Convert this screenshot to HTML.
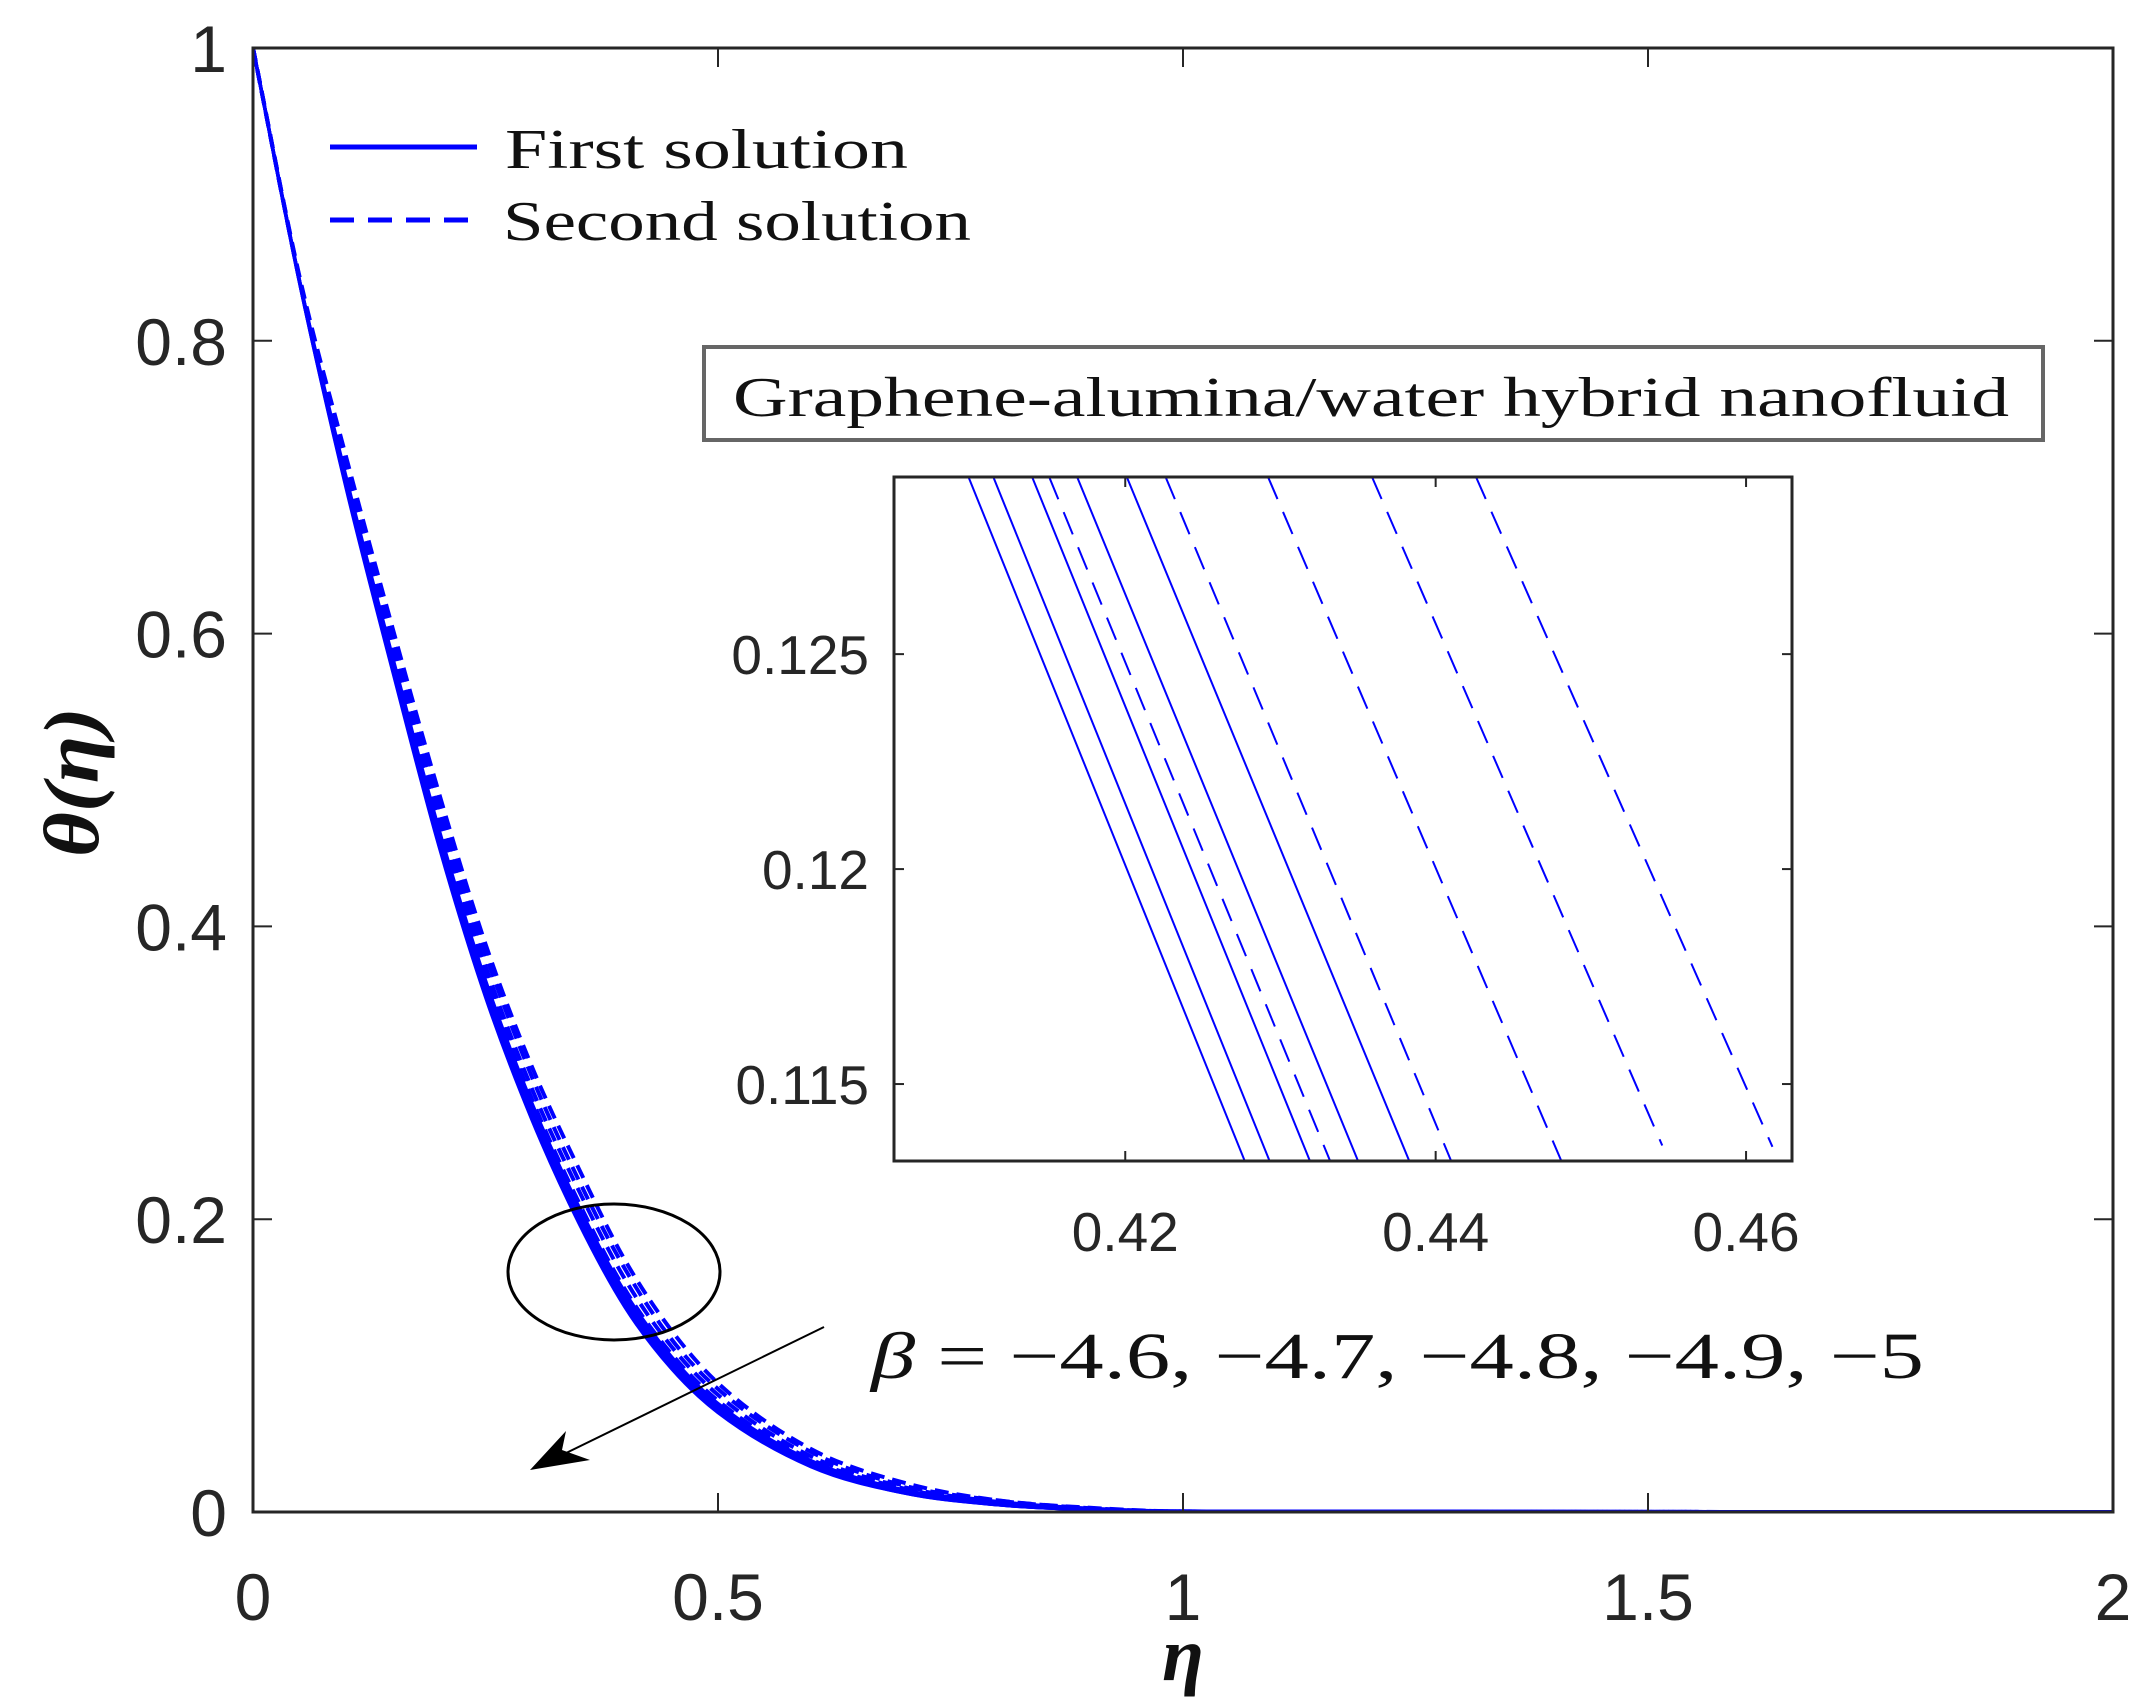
<!DOCTYPE html>
<html><head><meta charset="utf-8"><style>
html,body{margin:0;padding:0;background:#fff;}
svg{display:block;}
</style></head><body>
<svg id="chart" width="2146" height="1702" viewBox="0 0 2146 1702" xmlns="http://www.w3.org/2000/svg">
<defs>
<clipPath id="mainClip"><rect x="253" y="48" width="1860" height="1464"/></clipPath>
<clipPath id="insetClip"><rect x="894" y="477" width="898" height="684"/></clipPath>
</defs>
<rect x="0" y="0" width="2146" height="1702" fill="#fff"/>
<g id="mainCurves" clip-path="url(#mainClip)"></g>
<g id="mainAxes"></g>
<g>
<line x1="330" y1="147" x2="477" y2="147" stroke="#0000ff" stroke-width="5"/>
<text x="505" y="168" font-family="'Liberation Serif',serif" font-size="56" fill="#111" textLength="403" lengthAdjust="spacingAndGlyphs">First solution</text>
<line x1="330" y1="220" x2="477" y2="220" stroke="#0000ff" stroke-width="5" stroke-dasharray="24 14"/>
<text x="503" y="240" font-family="'Liberation Serif',serif" font-size="56" fill="#111" textLength="468" lengthAdjust="spacingAndGlyphs">Second solution</text>
</g>
<g>
<rect x="704" y="347" width="1339" height="93" fill="#fff" stroke="#666" stroke-width="4"/>
<text x="733" y="416" font-family="'Liberation Serif',serif" font-size="56" fill="#111" textLength="1276" lengthAdjust="spacingAndGlyphs">Graphene-alumina/water hybrid nanofluid</text>
</g>
<rect x="894" y="477" width="898" height="684" fill="#fff"/>
<g id="insetCurves" clip-path="url(#insetClip)"></g>
<g id="insetAxes"></g>
<ellipse cx="614" cy="1272" rx="106" ry="68" fill="none" stroke="#000" stroke-width="3"/>
<g>
<line x1="824" y1="1327" x2="560" y2="1456" stroke="#000" stroke-width="2"/>
<polygon points="530,1470 566,1431 562,1450 590,1460" fill="#000"/>
</g>
<text x="871" y="1378" font-family="'Liberation Serif',serif" font-size="66" fill="#111" textLength="1053" lengthAdjust="spacingAndGlyphs"><tspan font-style="italic">β</tspan> = −4.6, −4.7, −4.8, −4.9, −5</text>
<text x="1183" y="1680" text-anchor="middle" font-family="'Liberation Serif',serif" font-style="italic" font-weight="bold" font-size="76" fill="#111">η</text>
<text transform="translate(98,782) rotate(-90)" text-anchor="middle" font-family="'Liberation Serif',serif" font-style="italic" font-weight="bold" font-size="78" fill="#111" textLength="150" lengthAdjust="spacingAndGlyphs">θ(η)</text>
</svg>
<script>
// ---- main chart data ----
const etaGrid = [0,0.05,0.1,0.15,0.2,0.25,0.3,0.35,0.4,0.45,0.5,0.6,0.7,0.8,0.9,1.0,2.0];
const firstB46 = [1,0.840,0.700,0.575,0.455,0.352,0.268,0.198,0.140,0.098,0.068,0.031,0.013,0.005,0.0015,0.0004,0];
const firstB47 = [1,0.840,0.701,0.576,0.457,0.354,0.270,0.200,0.142,0.099,0.069,0.032,0.013,0.005,0.0015,0.0004,0];
const firstB48 = [1,0.841,0.703,0.579,0.459,0.357,0.272,0.203,0.144,0.101,0.071,0.033,0.014,0.005,0.0017,0.0004,0];
const firstB49 = [1,0.841,0.705,0.581,0.463,0.360,0.276,0.206,0.147,0.104,0.072,0.034,0.015,0.006,0.0018,0.0004,0];
const firstB50 = [1,0.841,0.707,0.584,0.466,0.363,0.279,0.209,0.150,0.106,0.074,0.035,0.015,0.006,0.0019,0.0004,0];
const secondB46 = [1,0.841,0.703,0.580,0.461,0.358,0.274,0.204,0.145,0.102,0.071,0.033,0.014,0.006,0.0017,0.0004,0];
const secondB47 = [1,0.842,0.708,0.586,0.469,0.366,0.282,0.212,0.152,0.108,0.076,0.036,0.016,0.006,0.0020,0.0004,0];
const secondB48 = [1,0.842,0.712,0.592,0.476,0.373,0.289,0.220,0.159,0.113,0.080,0.038,0.017,0.007,0.0023,0.0004,0];
const secondB49 = [1,0.843,0.717,0.598,0.483,0.381,0.297,0.227,0.166,0.118,0.084,0.041,0.018,0.008,0.0026,0.0004,0];
const secondB50 = [1,0.844,0.721,0.604,0.491,0.388,0.304,0.235,0.172,0.124,0.088,0.043,0.020,0.008,0.0029,0.0004,0];
const xTicks = [0,0.5,1,1.5,2];
const xTickLabels = ["0","0.5","1","1.5","2"];
const yTicks = [0,0.2,0.4,0.6,0.8,1];
const yTickLabels = ["0","0.2","0.4","0.6","0.8","1"];
// ---- inset data (line segments between top and bottom theta) ----
const insetThetaTop = 0.12912;
const insetSolidTopX = [0.4099,0.4115,0.4140,0.4169,0.4201];
const insetSolidBottomX = [0.4277,0.4293,0.4319,0.4350,0.4383];
const insetSolidBottomTheta = [0.11321,0.11321,0.11321,0.11321,0.11321];
const insetDashTopX = [0.4151,0.4226,0.4292,0.4359,0.4426];
const insetDashBottomX = [0.4332,0.4410,0.4481,0.4546,0.4617];
const insetDashBottomTheta = [0.11321,0.11321,0.11321,0.11357,0.11354];
const insetXTicks = [0.42,0.44,0.46];
const insetXTickLabels = ["0.42","0.44","0.46"];
const insetYTicks = [0.115,0.12,0.125];
const insetYTickLabels = ["0.115","0.12","0.125"];

const NS = "http://www.w3.org/2000/svg";
function mk(tag, attrs, parent){const e=document.createElementNS(NS,tag);for(const k in attrs)e.setAttribute(k,attrs[k]);parent.appendChild(e);return e;}

// main axes functions
const M = {l:253,r:2113,t:48,b:1512,x0:0,x1:2,y0:0,y1:1};
const mx = v => M.l + (v-M.x0)/(M.x1-M.x0)*(M.r-M.l);
const my = v => M.b - (v-M.y0)/(M.y1-M.y0)*(M.b-M.t);
// inset axes
const I = {l:894,r:1792,t:477,b:1161,x0:0.4051,x1:0.46296,y0:0.11321,y1:0.12912};
const ix = v => I.l + (v-I.x0)/(I.x1-I.x0)*(I.r-I.l);
const iy = v => I.b - (v-I.y0)/(I.y1-I.y0)*(I.b-I.t);

function monotonePath(xs, ys){
  const n=xs.length, px=xs.map(mx), py=ys.map(my);
  const d=[],m=new Array(n);
  for(let i=0;i<n-1;i++) d.push((py[i+1]-py[i])/(px[i+1]-px[i]));
  m[0]=d[0]; m[n-1]=d[n-2];
  for(let i=1;i<n-1;i++){ m[i] = (d[i-1]*d[i]<=0)?0:(d[i-1]+d[i])/2; }
  for(let i=0;i<n-1;i++){ if(d[i]===0){m[i]=0;m[i+1]=0;continue;}
    const a=m[i]/d[i],b=m[i+1]/d[i],s=a*a+b*b; if(s>9){const t=3/Math.sqrt(s);m[i]=t*a*d[i];m[i+1]=t*b*d[i];}}
  let p=`M${px[0]},${py[0]}`;
  for(let i=0;i<n-1;i++){const h=(px[i+1]-px[i])/3;
    p+=` C${px[i]+h},${py[i]+m[i]*h} ${px[i+1]-h},${py[i+1]-m[i+1]*h} ${px[i+1]},${py[i+1]}`;}
  return p;
}

const mainG = document.getElementById('mainCurves');
const firstSeries=[firstB46,firstB47,firstB48,firstB49,firstB50];
const secondSeries=[secondB46,secondB47,secondB48,secondB49,secondB50];
const betas=["4.6","4.7","4.8","4.9","5"];
secondSeries.forEach((s,i)=>{
  const e=mk('path',{d:monotonePath(etaGrid,s),fill:'none',stroke:'#0000ff','stroke-width':4,'stroke-dasharray':'14 8'},mainG);
  
  
});
firstSeries.forEach((s,i)=>{
  const e=mk('path',{d:monotonePath(etaGrid,s),fill:'none',stroke:'#0000ff','stroke-width':3.5},mainG);
  
  
});

const ax = document.getElementById('mainAxes');
const frame=mk('rect',{x:M.l,y:M.t,width:M.r-M.l,height:M.b-M.t,fill:'none',stroke:'#262626','stroke-width':3},ax);


xTicks.forEach((v,i)=>{
  const x=mx(v);
  mk('line',{x1:x,y1:M.b,x2:x,y2:M.b-19,stroke:'#262626','stroke-width':2},ax);
  mk('line',{x1:x,y1:M.t,x2:x,y2:M.t+19,stroke:'#262626','stroke-width':2},ax);
  const t=mk('text',{x:x,y:1620,'text-anchor':'middle','font-family':"'Liberation Sans',sans-serif",'font-size':66,fill:'#262626'},ax);
  t.textContent=xTickLabels[i];
  
  
});
yTicks.forEach((v,i)=>{
  const y=my(v);
  mk('line',{x1:M.l,y1:y,x2:M.l+19,y2:y,stroke:'#262626','stroke-width':2},ax);
  mk('line',{x1:M.r,y1:y,x2:M.r-19,y2:y,stroke:'#262626','stroke-width':2},ax);
  const t=mk('text',{x:227,y:y+24,'text-anchor':'end','font-family':"'Liberation Sans',sans-serif",'font-size':66,fill:'#262626'},ax);
  t.textContent=yTickLabels[i];
  
  
});

// inset
const ig=document.getElementById('insetCurves');
insetSolidTopX.forEach((v,i)=>{
  const e=mk('line',{x1:ix(v),y1:iy(insetThetaTop),x2:ix(insetSolidBottomX[i]),y2:iy(insetSolidBottomTheta[i]),stroke:'#0000ff','stroke-width':2},ig);
  
  
});
insetDashTopX.forEach((v,i)=>{
  const e=mk('line',{x1:ix(v),y1:iy(insetThetaTop),x2:ix(insetDashBottomX[i]),y2:iy(insetDashBottomTheta[i]),stroke:'#0000ff','stroke-width':2,'stroke-dasharray':'24 14'},ig);
  
  
});
const ia=document.getElementById('insetAxes');
const iframe=mk('rect',{x:I.l,y:I.t,width:I.r-I.l,height:I.b-I.t,fill:'none',stroke:'#262626','stroke-width':3},ia);


insetXTicks.forEach((v,i)=>{
  const x=ix(v);
  mk('line',{x1:x,y1:I.b,x2:x,y2:I.b-10,stroke:'#262626','stroke-width':2},ia);
  mk('line',{x1:x,y1:I.t,x2:x,y2:I.t+10,stroke:'#262626','stroke-width':2},ia);
  const t=mk('text',{x:x,y:1251,'text-anchor':'middle','font-family':"'Liberation Sans',sans-serif",'font-size':55,fill:'#262626'},ia);
  t.textContent=insetXTickLabels[i];
  
  
});
insetYTicks.forEach((v,i)=>{
  const y=iy(v);
  mk('line',{x1:I.l,y1:y,x2:I.l+10,y2:y,stroke:'#262626','stroke-width':2},ia);
  mk('line',{x1:I.r,y1:y,x2:I.r-10,y2:y,stroke:'#262626','stroke-width':2},ia);
  const t=mk('text',{x:869,y:y+20,'text-anchor':'end','font-family':"'Liberation Sans',sans-serif",'font-size':55,fill:'#262626'},ia);
  t.textContent=insetYTickLabels[i];
  
  
});
</script>
</body></html>
